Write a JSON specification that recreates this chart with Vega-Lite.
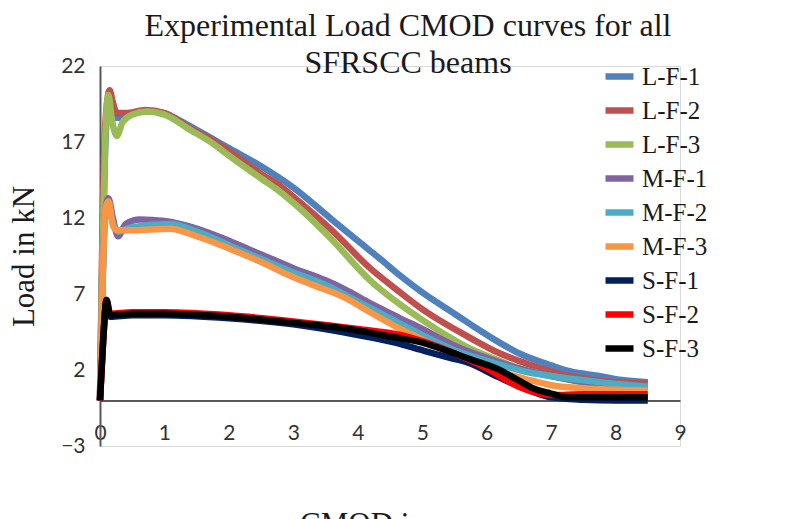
{
  "$schema": "https://vega.github.io/schema/vega-lite/v6.json",
  "autosize": {"type": "none"},
  "padding": {"left": 100, "top": 66, "right": 114, "bottom": 73},
  "width": 580,
  "height": 380,
  "background": "white",
  "title": {
    "text": ["Experimental Load CMOD curves for all", "SFRSCC beams"],
    "font": "Liberation Serif",
    "fontSize": 32,
    "fontWeight": "normal",
    "color": "#1a1a1a",
    "anchor": "middle",
    "frame": "group",
    "baseline": "bottom",
    "lineHeight": 37,
    "offset": -57,
    "dx": 18
  },
  "config": {
    "view": {"stroke": "#D9D9D9", "strokeWidth": 1}
  },
  "data": {"values": [
    {"s":"L-F-1","x":0,"y":0},{"s":"L-F-1","x":0.03,"y":8},{"s":"L-F-1","x":0.08,"y":16.5},{"s":"L-F-1","x":0.13,"y":19.2},{"s":"L-F-1","x":0.2,"y":18.6},{"s":"L-F-1","x":0.3,"y":18.6},{"s":"L-F-1","x":0.5,"y":18.9},{"s":"L-F-1","x":0.8,"y":19.0},{"s":"L-F-1","x":1.0,"y":18.9},{"s":"L-F-1","x":1.24,"y":18.4},{"s":"L-F-1","x":1.5,"y":17.8},{"s":"L-F-1","x":2.0,"y":16.6},{"s":"L-F-1","x":2.5,"y":15.4},{"s":"L-F-1","x":3.0,"y":14.0},{"s":"L-F-1","x":3.57,"y":12.0},{"s":"L-F-1","x":4.0,"y":10.5},{"s":"L-F-1","x":4.35,"y":9.3},{"s":"L-F-1","x":4.66,"y":8.2},{"s":"L-F-1","x":5.0,"y":7.1},{"s":"L-F-1","x":5.5,"y":5.7},{"s":"L-F-1","x":5.75,"y":5.0},{"s":"L-F-1","x":6.2,"y":3.8},{"s":"L-F-1","x":6.5,"y":3.1},{"s":"L-F-1","x":7.0,"y":2.3},{"s":"L-F-1","x":7.3,"y":1.9},{"s":"L-F-1","x":7.76,"y":1.6},{"s":"L-F-1","x":8.0,"y":1.4},{"s":"L-F-1","x":8.5,"y":1.2},
    {"s":"L-F-2","x":0,"y":0},{"s":"L-F-2","x":0.03,"y":9},{"s":"L-F-2","x":0.08,"y":18},{"s":"L-F-2","x":0.15,"y":20.4},{"s":"L-F-2","x":0.2,"y":19.6},{"s":"L-F-2","x":0.26,"y":18.9},{"s":"L-F-2","x":0.4,"y":18.9},{"s":"L-F-2","x":0.7,"y":19.1},{"s":"L-F-2","x":1.0,"y":18.9},{"s":"L-F-2","x":1.4,"y":17.9},{"s":"L-F-2","x":1.75,"y":17.1},{"s":"L-F-2","x":2.0,"y":16.4},{"s":"L-F-2","x":2.5,"y":14.9},{"s":"L-F-2","x":2.8,"y":14.1},{"s":"L-F-2","x":3.0,"y":13.4},{"s":"L-F-2","x":3.57,"y":11.3},{"s":"L-F-2","x":4.19,"y":8.7},{"s":"L-F-2","x":4.66,"y":7.1},{"s":"L-F-2","x":5.0,"y":6.0},{"s":"L-F-2","x":5.75,"y":4.1},{"s":"L-F-2","x":6.2,"y":3.1},{"s":"L-F-2","x":6.5,"y":2.6},{"s":"L-F-2","x":7.0,"y":1.9},{"s":"L-F-2","x":7.3,"y":1.6},{"s":"L-F-2","x":8.0,"y":1.2},{"s":"L-F-2","x":8.5,"y":1.1},
    {"s":"L-F-3","x":0,"y":0},{"s":"L-F-3","x":0.03,"y":8},{"s":"L-F-3","x":0.08,"y":17},{"s":"L-F-3","x":0.13,"y":20.1},{"s":"L-F-3","x":0.18,"y":18.6},{"s":"L-F-3","x":0.26,"y":17.4},{"s":"L-F-3","x":0.35,"y":18.3},{"s":"L-F-3","x":0.5,"y":18.8},{"s":"L-F-3","x":0.73,"y":19.0},{"s":"L-F-3","x":1.0,"y":18.8},{"s":"L-F-3","x":1.4,"y":17.8},{"s":"L-F-3","x":1.75,"y":16.9},{"s":"L-F-3","x":2.0,"y":16.1},{"s":"L-F-3","x":2.5,"y":14.6},{"s":"L-F-3","x":2.8,"y":13.7},{"s":"L-F-3","x":3.0,"y":13.0},{"s":"L-F-3","x":3.57,"y":10.7},{"s":"L-F-3","x":4.19,"y":7.9},{"s":"L-F-3","x":4.66,"y":6.3},{"s":"L-F-3","x":5.0,"y":5.3},{"s":"L-F-3","x":5.75,"y":3.4},{"s":"L-F-3","x":6.2,"y":2.6},{"s":"L-F-3","x":6.52,"y":2.1},{"s":"L-F-3","x":7.0,"y":1.6},{"s":"L-F-3","x":8.0,"y":1.0},{"s":"L-F-3","x":8.5,"y":0.9},
    {"s":"M-F-1","x":0,"y":0},{"s":"M-F-1","x":0.03,"y":6},{"s":"M-F-1","x":0.08,"y":12.4},{"s":"M-F-1","x":0.13,"y":13.3},{"s":"M-F-1","x":0.2,"y":12.0},{"s":"M-F-1","x":0.28,"y":10.8},{"s":"M-F-1","x":0.4,"y":11.6},{"s":"M-F-1","x":0.62,"y":11.9},{"s":"M-F-1","x":1.0,"y":11.8},{"s":"M-F-1","x":1.5,"y":11.3},{"s":"M-F-1","x":2.0,"y":10.5},{"s":"M-F-1","x":2.5,"y":9.6},{"s":"M-F-1","x":3.0,"y":8.7},{"s":"M-F-1","x":3.5,"y":7.9},{"s":"M-F-1","x":3.8,"y":7.3},{"s":"M-F-1","x":4.19,"y":6.4},{"s":"M-F-1","x":4.66,"y":5.4},{"s":"M-F-1","x":5.0,"y":4.7},{"s":"M-F-1","x":5.5,"y":3.6},{"s":"M-F-1","x":6.0,"y":2.8},{"s":"M-F-1","x":6.5,"y":2.1},{"s":"M-F-1","x":7.0,"y":1.6},{"s":"M-F-1","x":7.5,"y":1.2},{"s":"M-F-1","x":8.0,"y":1.0},{"s":"M-F-1","x":8.5,"y":0.9},
    {"s":"M-F-2","x":0,"y":0},{"s":"M-F-2","x":0.03,"y":6},{"s":"M-F-2","x":0.08,"y":12.2},{"s":"M-F-2","x":0.13,"y":12.9},{"s":"M-F-2","x":0.2,"y":11.7},{"s":"M-F-2","x":0.28,"y":11.1},{"s":"M-F-2","x":0.5,"y":11.4},{"s":"M-F-2","x":1.09,"y":11.6},{"s":"M-F-2","x":1.5,"y":11.1},{"s":"M-F-2","x":2.17,"y":9.9},{"s":"M-F-2","x":2.5,"y":9.3},{"s":"M-F-2","x":2.95,"y":8.5},{"s":"M-F-2","x":3.5,"y":7.6},{"s":"M-F-2","x":4.0,"y":6.5},{"s":"M-F-2","x":4.5,"y":5.4},{"s":"M-F-2","x":5.0,"y":4.3},{"s":"M-F-2","x":5.5,"y":3.3},{"s":"M-F-2","x":6.0,"y":2.6},{"s":"M-F-2","x":6.7,"y":1.8},{"s":"M-F-2","x":7.0,"y":1.6},{"s":"M-F-2","x":7.76,"y":1.2},{"s":"M-F-2","x":8.5,"y":0.9},
    {"s":"M-F-3","x":0,"y":0},{"s":"M-F-3","x":0.03,"y":6},{"s":"M-F-3","x":0.08,"y":12.5},{"s":"M-F-3","x":0.13,"y":13.1},{"s":"M-F-3","x":0.2,"y":11.5},{"s":"M-F-3","x":0.26,"y":11.2},{"s":"M-F-3","x":0.5,"y":11.2},{"s":"M-F-3","x":1.09,"y":11.3},{"s":"M-F-3","x":1.5,"y":10.8},{"s":"M-F-3","x":2.0,"y":10.0},{"s":"M-F-3","x":2.5,"y":9.1},{"s":"M-F-3","x":2.95,"y":8.2},{"s":"M-F-3","x":3.3,"y":7.6},{"s":"M-F-3","x":3.83,"y":6.7},{"s":"M-F-3","x":4.19,"y":5.8},{"s":"M-F-3","x":4.66,"y":4.7},{"s":"M-F-3","x":5.0,"y":4.0},{"s":"M-F-3","x":5.5,"y":3.0},{"s":"M-F-3","x":5.8,"y":2.4},{"s":"M-F-3","x":6.2,"y":1.9},{"s":"M-F-3","x":6.7,"y":1.3},{"s":"M-F-3","x":7.0,"y":1.0},{"s":"M-F-3","x":7.5,"y":0.8},{"s":"M-F-3","x":8.0,"y":0.7},{"s":"M-F-3","x":8.5,"y":0.65},
    {"s":"S-F-1","x":0,"y":0},{"s":"S-F-1","x":0.05,"y":4},{"s":"S-F-1","x":0.1,"y":6.4},{"s":"S-F-1","x":0.16,"y":5.5},{"s":"S-F-1","x":0.5,"y":5.6},{"s":"S-F-1","x":1.0,"y":5.6},{"s":"S-F-1","x":2.0,"y":5.4},{"s":"S-F-1","x":3.0,"y":5.0},{"s":"S-F-1","x":4.0,"y":4.3},{"s":"S-F-1","x":4.58,"y":3.8},{"s":"S-F-1","x":5.0,"y":3.3},{"s":"S-F-1","x":5.43,"y":2.8},{"s":"S-F-1","x":5.7,"y":2.5},{"s":"S-F-1","x":6.2,"y":1.5},{"s":"S-F-1","x":6.7,"y":0.6},{"s":"S-F-1","x":7.0,"y":0.2},{"s":"S-F-1","x":7.5,"y":0.05},{"s":"S-F-1","x":8.0,"y":0},{"s":"S-F-1","x":8.5,"y":0},
    {"s":"S-F-2","x":0,"y":0},{"s":"S-F-2","x":0.05,"y":4},{"s":"S-F-2","x":0.1,"y":6.6},{"s":"S-F-2","x":0.16,"y":5.7},{"s":"S-F-2","x":0.5,"y":5.8},{"s":"S-F-2","x":1.0,"y":5.8},{"s":"S-F-2","x":2.0,"y":5.6},{"s":"S-F-2","x":3.0,"y":5.2},{"s":"S-F-2","x":4.0,"y":4.7},{"s":"S-F-2","x":4.66,"y":4.3},{"s":"S-F-2","x":5.0,"y":3.9},{"s":"S-F-2","x":5.5,"y":3.1},{"s":"S-F-2","x":6.0,"y":2.1},{"s":"S-F-2","x":6.5,"y":0.9},{"s":"S-F-2","x":7.0,"y":0.35},{"s":"S-F-2","x":7.5,"y":0.4},{"s":"S-F-2","x":8.0,"y":0.4},{"s":"S-F-2","x":8.5,"y":0.4},
    {"s":"S-F-3","x":0,"y":0},{"s":"S-F-3","x":0.05,"y":4},{"s":"S-F-3","x":0.1,"y":6.6},{"s":"S-F-3","x":0.16,"y":5.6},{"s":"S-F-3","x":0.5,"y":5.7},{"s":"S-F-3","x":1.0,"y":5.7},{"s":"S-F-3","x":2.0,"y":5.5},{"s":"S-F-3","x":3.0,"y":5.1},{"s":"S-F-3","x":4.0,"y":4.6},{"s":"S-F-3","x":4.5,"y":4.2},{"s":"S-F-3","x":5.0,"y":3.8},{"s":"S-F-3","x":5.43,"y":3.2},{"s":"S-F-3","x":5.75,"y":2.7},{"s":"S-F-3","x":6.2,"y":2.0},{"s":"S-F-3","x":6.5,"y":1.3},{"s":"S-F-3","x":6.72,"y":0.8},{"s":"S-F-3","x":7.0,"y":0.45},{"s":"S-F-3","x":7.25,"y":0.2},{"s":"S-F-3","x":7.5,"y":0.2},{"s":"S-F-3","x":8.0,"y":0.2},{"s":"S-F-3","x":8.5,"y":0.2}
  ]},
  "mark": {"type": "line", "interpolate": "monotone", "strokeWidth": 6.5, "strokeCap": "butt", "strokeJoin": "round"},
  "encoding": {
    "x": {
      "field": "x", "type": "quantitative",
      "scale": {"domain": [0, 9], "nice": false, "zero": false},
      "axis": {
        "title": "CMOD in mm",
        "titleFont": "Liberation Serif", "titleFontSize": 31, "titleFontWeight": "normal", "titleColor": "#1a1a1a",
        "titlePadding": 66,
        "values": [0,1,2,3,4,5,6,7,8,9],
        "offset": -45.6,
        "grid": false,
        "ticks": false,
        "domainColor": "#595959", "domainWidth": 2,
        "labelFont": "Lato", "labelFontSize": 21, "labelColor": "#333333",
        "labelPadding": 22,
        "labelFlush": false
      }
    },
    "y": {
      "field": "y", "type": "quantitative",
      "scale": {"domain": [-3, 22], "nice": false, "zero": false},
      "axis": {
        "title": "Load in kN",
        "titleFont": "Liberation Serif", "titleFontSize": 31, "titleFontWeight": "normal", "titleColor": "#1a1a1a",
        "titlePadding": 20,
        "values": [-3, 2, 7, 12, 17, 22],
        "grid": false,
        "ticks": false,
        "domainColor": "#595959", "domainWidth": 2,
        "labelFont": "Lato", "labelFontSize": 21, "labelColor": "#333333",
        "labelPadding": 15,
        "labelFlush": false
      }
    },
    "color": {
      "field": "s", "type": "nominal",
      "scale": {
        "domain": ["L-F-1","L-F-2","L-F-3","M-F-1","M-F-2","M-F-3","S-F-1","S-F-2","S-F-3"],
        "range": ["#4F81BD","#C0504D","#9BBB59","#8064A2","#4BACC6","#F79646","#002060","#FF0000","#000000"]
      },
      "legend": {
        "title": null,
        "orient": "none",
        "legendX": 502,
        "legendY": -7,
        "padding": 0,
        "symbolType": "stroke",
        "symbolSize": 784,
        "symbolStrokeWidth": 6.5,
        "labelFont": "Liberation Serif",
        "labelFontSize": 25,
        "labelColor": "#1a1a1a",
        "labelOffset": 5,
        "rowPadding": 3,
        "labelLimit": 200
      }
    }
  }
}
